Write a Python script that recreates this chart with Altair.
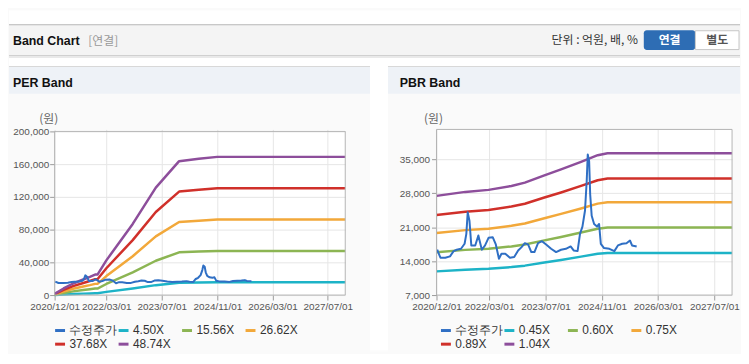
import altair as alt
import pandas as pd

# ---------------- data ----------------
price_dates = ["2020-12-07", "2021-01-04", "2021-02-15", "2021-03-28", "2021-04-28", "2021-05-25",
               "2021-07-01", "2021-08-01", "2021-08-16", "2021-08-28", "2021-09-12", "2021-09-28",
               "2021-11-01", "2021-11-28", "2021-12-28", "2022-01-25", "2022-02-24", "2022-04-01",
               "2022-04-28", "2022-05-25", "2022-06-16", "2022-07-19", "2022-08-28", "2022-10-04",
               "2022-11-07", "2022-12-07", "2023-01-04", "2023-02-01", "2023-03-01", "2023-03-28",
               "2023-04-28", "2023-06-01", "2023-07-07", "2023-08-19", "2023-10-01", "2023-11-13",
               "2023-12-25", "2024-02-04", "2024-03-01", "2024-04-04", "2024-04-25", "2024-05-16",
               "2024-06-07", "2024-06-22", "2024-07-01", "2024-07-13", "2024-07-22", "2024-08-04",
               "2024-08-25", "2024-09-19", "2024-10-07", "2024-10-22", "2024-11-19", "2025-01-04",
               "2025-02-16", "2025-03-19", "2025-04-25", "2025-06-01", "2025-07-01", "2025-07-19",
               "2025-08-28"]
price_values = [16360, 14720, 14720, 15000, 16080, 16360,
                16560, 17590, 19640, 24080, 22370, 17250,
                17250, 19300, 16360, 17250, 18820, 18950,
                17450, 14510, 15540, 15540, 14720, 14850,
                16220, 16900, 17720, 17450, 15880, 15880,
                17720, 18130, 17450, 16560, 15880, 16360,
                16560, 17040, 16220, 16080, 19640, 21140,
                24420, 30560, 36030, 34660, 27830, 23390,
                21680, 21140, 21680, 17590, 16700, 16560,
                16080, 17250, 17590, 17720, 18270, 17250,
                17040]

eps_dates = ["2020-12-01", "2021-02-18", "2021-05-12", "2021-08-10", "2021-10-07", "2021-11-22",
             "2021-12-13", "2022-03-01", "2022-10-19", "2023-05-10", "2023-12-01", "2024-05-22",
             "2024-11-01", "2027-12-01"]
eps_values = [31, 166, 290, 390, 455, 514, 514, 870, 1783, 2694, 3357, 3416, 3465, 3465]

bps_dates = ["2020-12-01", "2021-08-07", "2022-02-24", "2022-09-10", "2023-01-04", "2023-06-22",
             "2023-11-13", "2024-05-04", "2024-09-25", "2024-12-19", "2027-12-01"]
bps_values = [26430, 27220, 27620, 28400, 29060, 30500, 31680, 33190, 34510, 34900, 34900]

price_name = "수정주가"
per_multiples = [4.50, 15.56, 26.62, 37.68, 48.74]
per_labels = ["4.50X", "15.56X", "26.62X", "37.68X", "48.74X"]
pbr_multiples = [0.45, 0.60, 0.75, 0.89, 1.04]
pbr_labels = ["0.45X", "0.60X", "0.75X", "0.89X", "1.04X"]
series_colors = ["#2f6fc4", "#1db3c7", "#8cb553", "#f2a83a", "#d0302a", "#8d4e9b"]

x_ticks = ["2020-12-01", "2022-03-01", "2023-07-01", "2024-11-01", "2026-03-01", "2027-07-01"]
x_domain = ["2020-12-01", "2027-12-01"]
per_y_ticks = [0, 40000, 80000, 120000, 160000, 200000]
pbr_y_ticks = [7000, 14000, 21000, 28000, 35000]

# ---------------- build tables ----------------
price_df = pd.DataFrame({"date": price_dates, "value": price_values, "series": price_name})

per_rows = []
for lab, m in zip(per_labels, per_multiples):
    for d, v in zip(eps_dates, eps_values):
        per_rows.append({"date": d, "value": m * v, "series": lab})
per_df = pd.DataFrame(per_rows)

pbr_rows = []
for lab, m in zip(pbr_labels, pbr_multiples):
    for d, v in zip(bps_dates, bps_values):
        pbr_rows.append({"date": d, "value": m * v, "series": lab})
pbr_df = pd.DataFrame(pbr_rows)

LAT = "Liberation Sans"
KOR = "Noto Sans CJK KR"
PW_L, PW_R, PH = 293, 298, 167
OX, OY = 54, 128          # left plot origin on the page
SPACING = 92
RX = OX + PW_L + SPACING  # right plot origin x on the page


def dt(s):
    y, m, d = (int(p) for p in s.split("-"))
    return alt.DateTime(year=y, month=m, date=d, utc=True)


def x_enc():
    return alt.X("date:T",
                 scale=alt.Scale(type="utc", domain=[dt(s) for s in x_domain]),
                 axis=alt.Axis(values=[dt(s) for s in x_ticks],
                               labelExpr="utcFormat(datum.value, '%Y/%m/%d')",
                               title=None, labelFont=LAT, labelFontSize=10, labelColor="#555",
                               tickColor="#9a9a9a", tickSize=5, labelPadding=2, domain=False,
                               grid=True, gridColor="#e6e6e6", labelFlush=False, labelOverlap=False))


def y_axis(vals, pad):
    return alt.Axis(values=vals, format=",d", title=None, labelFont=LAT, labelFontSize=10,
                    labelColor="#555", tickColor="#9a9a9a", tickSize=5, labelPadding=pad,
                    domain=False, grid=True, gridColor="#e6e6e6")


def legend(lx):
    return alt.Legend(title=None, orient="none", legendX=lx, legendY=196, direction="horizontal",
                      columns=4, symbolType="stroke", symbolSize=100, symbolStrokeWidth=3,
                      labelFont=LAT, labelFontSize=12, labelColor="#333", labelOffset=3,
                      columnPadding=-7, rowPadding=1, gridAlign="all", padding=0, labelLimit=200)


one = pd.DataFrame({"k": [0]})


def box(x1, y1, x2, y2, ox, oy, **kw):
    return alt.Chart(one).mark_rect(**kw).encode(
        x=alt.value(x1 - ox), x2=alt.value(x2 - ox), y=alt.value(y1 - oy), y2=alt.value(y2 - oy))


def label(txt, x, y, ox, oy, **kw):
    return alt.Chart(one).mark_text(text=txt, **kw).encode(x=alt.value(x - ox), y=alt.value(y - oy))


# ---------------- page decorations (page coordinates) ----------------
deco = [
    box(8, 8, 745, 22, OX, OY, fill="white"),
    box(8, 22, 745, 53, OX, OY, fill="#f4f4f4"),
    box(8, 22, 745, 23, OX, OY, fill="#b8b8b8"),
    box(8, 53, 745, 54, OX, OY, fill="#d0d0d0"),
    box(8, 54, 745, 56, OX, OY, fill="#e9e9e9"),
    box(8, 56, 745, 64, OX, OY, fill="white"),
    box(8, 64, 372, 92, OX, OY, fill="#eef2f7"),
    box(390, 64, 745, 92, OX, OY, fill="#eef2f7"),
    box(8, 64, 372, 65, OX, OY, fill="#d8d8d8"),
    box(390, 64, 745, 65, OX, OY, fill="#d8d8d8"),
    box(372, 56, 390, 352, OX, OY, fill="white"),
    box(8, 351, 745, 352, OX, OY, fill="#fafafa"),
    box(648, 28, 700, 48, OX, OY, fill="#2e6db4", cornerRadius=3),
    box(700, 28.5, 744, 47.5, OX, OY, fill="white", stroke="#c6c6c6", strokeWidth=1),
    label("Band Chart", 12, 43, OX, OY, font=LAT, fontSize=12.5, fontWeight="bold", color="#111",
          align="left", baseline="alphabetic"),
    label("[연결]", 88, 43, OX, OY, font=KOR, fontSize=12, color="#999", align="left",
          baseline="alphabetic"),
    label("단위 : 억원, 배, %", 642, 42, OX, OY, font=KOR, fontSize=12, color="#333", align="right",
          baseline="alphabetic"),
    label("연결", 674, 38, OX, OY, font=KOR, fontSize=12, fontWeight="bold", color="white",
          align="center", baseline="middle"),
    label("별도", 722, 38, OX, OY, font=KOR, fontSize=12, fontWeight="bold", color="#555",
          align="center", baseline="middle"),
    label("PER Band", 12, 85, OX, OY, font=LAT, fontSize=12.5, fontWeight="bold", color="#111",
          align="left", baseline="alphabetic"),
    label("PBR Band", 402, 85, OX, OY, font=LAT, fontSize=12.5, fontWeight="bold", color="#111",
          align="left", baseline="alphabetic"),
    label("(원)", 48, 118, OX, OY, font=KOR, fontSize=12, color="#666", align="center",
          baseline="middle"),
]

# ---------------- PER panel ----------------
per_scale = alt.Scale(domain=[price_name] + per_labels, range=series_colors)
per_y = alt.Y("value:Q", scale=alt.Scale(domain=[0, 200000 * PH / 165], nice=False, zero=False),
              axis=y_axis(per_y_ticks, 1))
per_color = alt.Color("series:N", scale=per_scale, legend=legend(-1))

per_bands = alt.Chart(per_df).mark_line(strokeWidth=2.5, strokeJoin="round").encode(
    x=x_enc(), y=per_y, color=per_color, detail="series:N")
per_price = alt.Chart(price_df).mark_line(strokeWidth=2, strokeJoin="round").encode(
    x=x_enc(), y=per_y, color=per_color)
per_frame = alt.Chart(one).mark_rect(fillOpacity=0, stroke="#b3b3b3", strokeWidth=1).encode(
    x=alt.value(0), x2=alt.value(PW_L), y=alt.value(2), y2=alt.value(PH))

left = alt.layer(*deco, per_bands, per_price, per_frame).properties(width=PW_L, height=PH)

# ---------------- PBR panel ----------------
pbr_scale = alt.Scale(domain=[price_name] + pbr_labels, range=series_colors)
pbr_y = alt.Y("value:Q", scale=alt.Scale(domain=[7000, 7000 + PH / 34.17 * 7000], nice=False, zero=False),
              axis=y_axis(pbr_y_ticks, 2))
pbr_color = alt.Color("series:N", scale=pbr_scale, legend=legend(3))

pbr_bands = alt.Chart(pbr_df).mark_line(strokeWidth=2.5, strokeJoin="round").encode(
    x=x_enc(), y=pbr_y, color=pbr_color, detail="series:N")
pbr_price = alt.Chart(price_df).mark_line(strokeWidth=2, strokeJoin="round").encode(
    x=x_enc(), y=pbr_y, color=pbr_color)
pbr_frame = alt.Chart(one).mark_rect(fillOpacity=0, stroke="#b3b3b3", strokeWidth=1).encode(
    x=alt.value(0), x2=alt.value(PW_R), y=alt.value(0), y2=alt.value(PH))
pbr_unit = label("(원)", 436, 118, RX, OY, font=KOR, fontSize=12, color="#666", align="center",
                 baseline="middle")

right = alt.layer(pbr_bands, pbr_price, pbr_frame, pbr_unit).properties(width=PW_R, height=PH)

chart = alt.hconcat(left, right, spacing=SPACING, bounds="flush").resolve_scale(
    color="independent", x="independent", y="independent"
).resolve_legend(color="independent").properties(
    padding=0, background="#fafafa"
).configure_view(fill="white", stroke="transparent")

chart.save("out.html", embed_options={"renderer": "svg", "actions": False})
